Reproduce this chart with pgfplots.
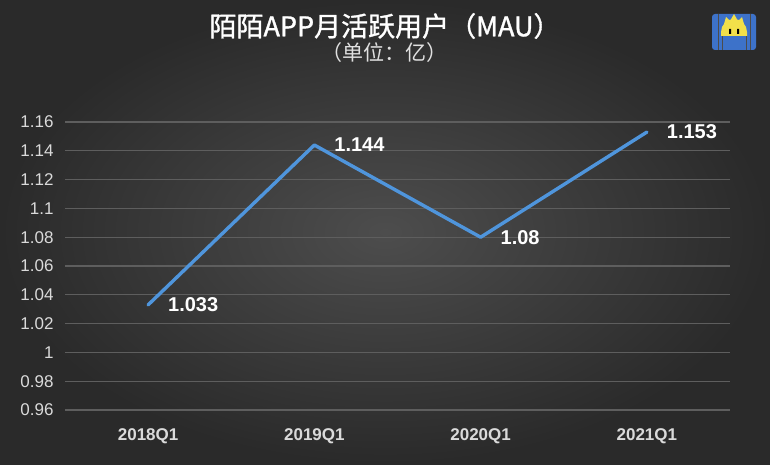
\documentclass[border=0pt]{standalone}
\usepackage{fontspec}
\setmainfont{Liberation Sans}
\newfontfamily\cjk{Noto Sans CJK SC}
\newfontfamily\cjkt[FakeBold=1.2]{Noto Sans CJK SC}
\usepackage{pgfplots}
\pgfplotsset{compat=1.18}
\definecolor{bgin}{HTML}{4D4D4D}
\definecolor{bgout}{HTML}{2A2A2A}
\definecolor{gridc}{HTML}{5E5E5E}
\definecolor{lineblue}{HTML}{4F95DC}
\definecolor{tickc}{HTML}{DADADA}
\definecolor{logoblue}{HTML}{3D72C9}
\definecolor{logoyellow}{HTML}{F2E04A}
\begin{document}
\begin{tikzpicture}
\shade[inner color=bgin, outer color=bgout] (0pt,0pt) rectangle (770pt,464pt);
% logo
\fill[logoblue, rounded corners=3pt] (712pt,414pt) rectangle (756pt,450pt);
\draw[black!70, line width=0.8pt] (718pt,414pt) -- (718pt,450pt) (750pt,414pt) -- (750pt,450pt) (722pt,414pt)--(722pt,430pt) (746pt,414pt)--(746pt,430pt);
\fill[logoyellow] (721pt,432pt) arc[start angle=180,end angle=0,radius=13pt] -- (747pt,428pt) -- (721pt,428pt) -- cycle;
\fill[logoyellow] (724pt,440pt) -- (726pt,447pt) -- (730pt,443pt) -- (734pt,450pt) -- (738pt,443pt) -- (742pt,447pt) -- (744pt,440pt) -- cycle;
\fill[black] (729pt,430pt) rectangle (731pt,435pt) (737pt,430pt) rectangle (739pt,435pt);
% titles
\node[text=white, font=\cjkt\fontsize{27}{27}\selectfont] at (385pt,438pt) {陌陌APP月活跃用户（MAU）};
\node[text=black!12, font=\cjk\fontsize{21}{21}\selectfont] at (384pt,411pt) {（单位：亿）};
\begin{axis}[
  at={(65pt,54pt)}, anchor=south west,
  scale only axis, width=665pt, height=288pt,
  xmin=0, xmax=4, ymin=0.96, ymax=1.16,
  axis line style={draw=none},
  major tick length=0pt,
  xtick={0.5,1.5,2.5,3.5},
  xticklabels={2018Q1,2019Q1,2020Q1,2021Q1},
  ytick={0.96,0.98,1,1.02,1.04,1.06,1.08,1.1,1.12,1.14,1.16},
  yticklabels={0.96,0.98,1,1.02,1.04,1.06,1.08,1.1,1.12,1.14,1.16},
  ymajorgrids, grid style={gridc, line width=1.1pt},
  xticklabel style={text=tickc, font=\bfseries\fontsize{17}{17}\selectfont, yshift=-15pt},
  yticklabel style={text=tickc, font=\fontsize{17}{17}\selectfont, xshift=-8pt},
  clip=false,
]
\addplot[color=lineblue, line width=3.4pt, line join=round, line cap=round, mark=none,
  nodes near coords, point meta=explicit symbolic,
  every node near coord/.append style={anchor=west, xshift=15pt, yshift=0pt, text=white, font=\bfseries\fontsize{20}{20}\selectfont}]
  table[meta=label] {
x y label
0.5 1.033 1.033
1.5 1.144 1.144
2.5 1.08 1.08
3.5 1.153 1.153
};
\end{axis}
\end{tikzpicture}
\end{document}
